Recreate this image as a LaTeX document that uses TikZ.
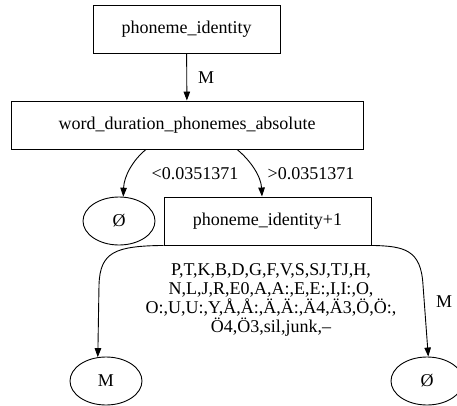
\documentclass[tikz,border=0pt]{standalone}
\usepackage{fontspec}
\setmainfont{Liberation Serif}
\usetikzlibrary{arrows.meta,shapes.geometric}
\begin{document}
\begin{tikzpicture}[x=1pt,y=-1pt,
  every node/.style={font=\fontsize{18}{19}\selectfont, inner sep=0pt},
  box/.style={draw, line width=0.9pt, rectangle, minimum height=48pt},
  leaf/.style={draw, line width=0.9pt, ellipse, minimum width=72pt, minimum height=48pt},
  arr/.style={line width=0.9pt, -{Triangle[length=9pt,width=6.5pt]}},
  lab/.style={align=center}]
\useasboundingbox (0,0) rectangle (457,406);

% decision nodes
\node[box, minimum width=187pt] (pi) at (186.5,29) {phoneme\_identity};
\node[box, minimum width=352pt] (wd) at (187,125) {word\_duration\_phonemes\_absolute};
\node[box, minimum width=207pt] (pi1) at (267.5,221) {phoneme\_identity+1};

% leaves
\node[leaf] (e1) at (119,221) {Ø};
\node[leaf] (m) at (106,381) {M};
\node[leaf] (e2) at (427,381) {Ø};

% connectors
\draw[arr] (pi) -- (wd);
\node (lm1) at (206,78) {M};

\draw[arr] ([xshift=-41pt]wd.south) .. controls (133,160) and (124,176) .. (e1.80);
\node (llt) at (195,174) {<0.0351371};

\draw[arr] ([xshift=50pt]wd.south) .. controls (250,160) and (261,176) .. ([xshift=-5.5pt]pi1.north);
\node (lgt) at (311,174) {>0.0351371};

\draw[arr] (pi1.south west) .. controls (115,246) and (100,252) .. (99,285) -- (m.109);
\node[lab] (lset) at (271,300) {P,T,K,B,D,G,F,V,S,SJ,TJ,H,\\N,L,J,R,E0,A,A:,E,E:,I,I:,O,\\O:,U,U:,Y,Å,Å:,Ä,Ä:,Ä4,Ä3,Ö,Ö:,\\Ö4,Ö3,sil,junk,–};

\draw[arr] (pi1.south east) .. controls (405,246) and (421,250) .. (423,285) -- (e2.87);
\node (lm2) at (444,302) {M};
\end{tikzpicture}
\end{document}
